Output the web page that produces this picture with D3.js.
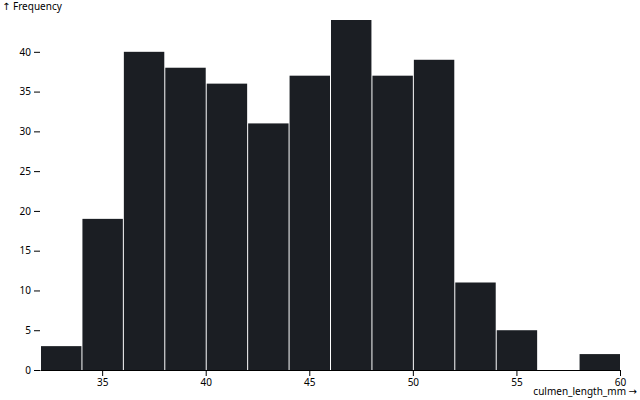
<!DOCTYPE html>
<html>
<head>
<meta charset="utf-8">
<script src="https://cdn.jsdelivr.net/npm/d3@7"></script>
<style>
  body { margin: 0; background: #fff; }
  svg { display: block; }
</style>
</head>
<body>
<div id="chart"></div>
<script>
/* --- データ --- */
// 各ビンの下限・上限 (culmen_length_mm)
const binStarts = [32, 34, 36, 38, 40, 42, 44, 46, 48, 50, 52, 54, 56, 58];
const binEnds   = [34, 36, 38, 40, 42, 44, 46, 48, 50, 52, 54, 56, 58, 60];
// 度数
const counts    = [3, 19, 40, 38, 36, 31, 37, 44, 37, 39, 11, 5, 0, 2];

const bins = binStarts.map((x0, i) => ({x0: x0, x1: binEnds[i], length: counts[i]}));

/* --- サイズ --- */
const width = 640, height = 400;
const marginTop = 20, marginRight = 20, marginBottom = 30, marginLeft = 40;
const fontFamily = "'Noto Sans', 'DejaVu Sans', sans-serif";

/* --- スケール --- */
const x = d3.scaleLinear()
    .domain([bins[0].x0, bins[bins.length - 1].x1])
    .range([marginLeft, width - marginRight]);

const y = d3.scaleLinear()
    .domain([0, d3.max(bins, d => d.length)])
    .range([height - marginBottom, marginTop]);

const svg = d3.select("#chart").append("svg")
    .attr("width", width)
    .attr("height", height)
    .attr("viewBox", [0, 0, width, height]);

/* --- バー --- */
svg.append("g")
    .attr("fill", "#1b1e23")
  .selectAll("rect")
  .data(bins)
  .join("rect")
    .attr("x", d => x(d.x0) + 1)
    .attr("width", d => x(d.x1) - x(d.x0) - 1)
    .attr("y", d => y(d.length))
    .attr("height", d => y(0) - y(d.length));

/* --- X軸 --- */
svg.append("g")
    .attr("transform", `translate(0,${height - marginBottom})`)
    .call(d3.axisBottom(x).ticks(width / 80).tickSizeOuter(0))
    .attr("font-family", fontFamily)
    .attr("font-size", 10)
    .call(g => g.append("text")
        .attr("x", width - 3)
        .attr("y", marginBottom - 5)
        .attr("fill", "currentColor")
        .attr("text-anchor", "end")
        .text("culmen_length_mm →"));

/* --- Y軸 --- */
svg.append("g")
    .attr("transform", `translate(${marginLeft},0)`)
    .call(d3.axisLeft(y).ticks(height / 40))
    .attr("font-family", fontFamily)
    .attr("font-size", 10)
    .call(g => g.select(".domain").remove())
    .call(g => g.append("text")
        .attr("x", -marginLeft + 2)
        .attr("y", 10)
        .attr("fill", "currentColor")
        .attr("text-anchor", "start")
        .text("↑ Frequency"));
</script>
</body>
</html>
